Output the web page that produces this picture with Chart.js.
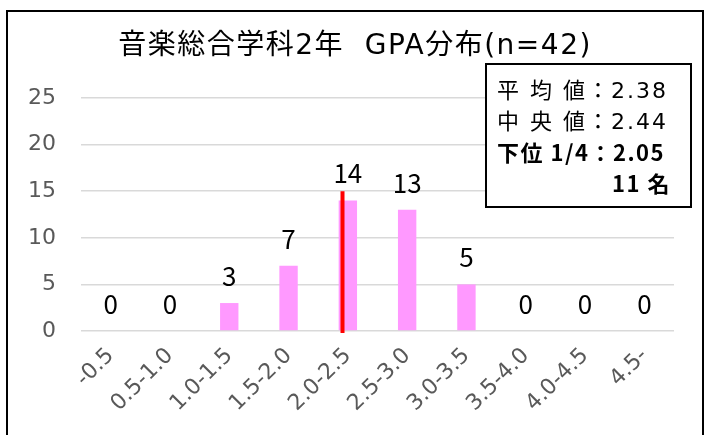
<!DOCTYPE html>
<html>
<head>
<meta charset="utf-8">
<script src="https://cdn.jsdelivr.net/npm/chart.js@4"></script>
<style>
  html, body { margin: 0; padding: 0; background: #fff; }
  #wrap { width: 713px; height: 435px; position: relative; }
</style>
</head>
<body>
<div id="wrap"><canvas id="gpaChart" width="713" height="435"></canvas></div>
<script>
// データ
const categories = ['-0.5', '0.5-1.0', '1.0-1.5', '1.5-2.0', '2.0-2.5', '2.5-3.0', '3.0-3.5', '3.5-4.0', '4.0-4.5', '4.5-'];
const counts = [0, 0, 3, 7, 14, 13, 5, 0, 0, 0];
const yTicks = [0, 5, 10, 15, 20, 25];
const titleText = '音楽総合学科2年  GPA分布(n=42)';
const statLines = ['平 均 値：2.38', '中 央 値：2.44', '下位 1/4：2.05', '11 名'];
// 赤線の位置（カテゴリ軸上）と高さ
const markerPos = 3.91;
const markerTop = 15;

const FONT = '"Noto Sans CJK JP", "Noto Sans", sans-serif';
const WIDE = '"DejaVu Sans", "Noto Sans CJK JP", sans-serif';

// タイトル・外枠・統計ボックス・赤線・データラベル
const decorations = {
    id: 'decorations',
    afterDatasetsDraw(chart) {
        const c = chart.ctx;
        const x = chart.scales.x, y = chart.scales.y;

        // データラベル
        const meta = chart.getDatasetMeta(0);
        c.save();
        c.font = '26px ' + FONT;
        c.fillStyle = '#000';
        c.textAlign = 'center';
        c.textBaseline = 'middle';
        meta.data.forEach((bar, i) => {
            c.fillText(String(counts[i]), bar.x, bar.y - 27);
        });

        // タイトル
        c.font = '28px ' + WIDE;
        c.letterSpacing = '1.5px';
        c.fillText(titleText, 355, 47);

        // 赤線
        c.strokeStyle = '#ff0000';
        c.lineWidth = 4;
        c.beginPath();
        const mx = x.getPixelForValue(markerPos);
        c.moveTo(mx, y.getPixelForValue(markerTop));
        c.lineTo(mx, y.getPixelForValue(0) + 2);
        c.stroke();

        // 統計ボックス
        c.fillStyle = '#fff';
        c.fillRect(486, 64, 205, 143);
        c.strokeStyle = '#000';
        c.lineWidth = 2;
        c.strokeRect(486, 64, 205, 143);
        c.fillStyle = '#000';
        c.textAlign = 'left';
        c.textBaseline = 'alphabetic';
        c.letterSpacing = '2px';
        c.font = '22px ' + WIDE;
        c.fillText(statLines[0], 497, 98);
        c.fillText(statLines[1], 497, 129);
        c.font = 'bold 22px ' + FONT;
        c.letterSpacing = '1.5px';
        c.fillText(statLines[2], 497, 161);
        c.textAlign = 'right';
        c.fillText(statLines[3], 671, 192);
        c.letterSpacing = '0px';

        // 外枠
        c.strokeStyle = '#000';
        c.lineWidth = 2;
        c.strokeRect(7, 11, 696, 440);
        c.restore();
    }
};

const ctx = document.getElementById('gpaChart').getContext('2d');
const gpaChart = new Chart(ctx, {
    type: 'bar',
    data: {
        labels: categories,
        datasets: [{
            data: counts,
            backgroundColor: '#ff99ff',
            categoryPercentage: 1,
            barPercentage: 0.31
        }]
    },
    options: {
        responsive: false,
        animation: false,
        layout: { padding: { left: 0, right: 39, top: 98, bottom: 0 } },
        plugins: {
            legend: { display: false },
            tooltip: { enabled: false }
        },
        scales: {
            x: {
                grid: { display: false, drawTicks: false },
                border: { display: false },
                ticks: {
                    color: '#595959',
                    font: { family: WIDE, size: 22 },
                    minRotation: 45,
                    maxRotation: 45,
                    padding: 12
                },
                afterFit(s) { s.height = 104; }
            },
            y: {
                min: 0,
                max: 25,
                grid: { color: '#d9d9d9', lineWidth: 1.5, drawTicks: false },
                border: { display: false },
                afterBuildTicks(s) { s.ticks = yTicks.map(v => ({ value: v })); },
                ticks: {
                    color: '#595959',
                    font: { family: WIDE, size: 22 },
                    padding: 25
                },
                afterFit(s) { s.width = 81; }
            }
        }
    },
    plugins: [decorations]
});
</script>
</body>
</html>
